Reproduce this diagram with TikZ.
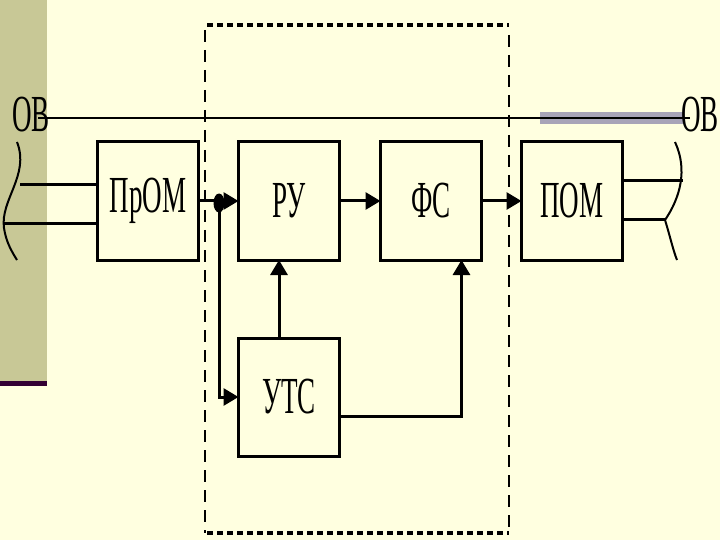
\documentclass[tikz,border=0pt]{standalone}
\usepackage{fontspec}
\newfontfamily\uzkij{Liberation Serif}[FakeStretch=0.52]
\usepackage{xcolor}
\usepackage{tikz}
\usetikzlibrary{arrows.meta,positioning,shapes.geometric}
\definecolor{fon}{HTML}{FFFFE0}
\definecolor{olivka}{HTML}{C8C896}
\definecolor{slivka}{HTML}{330033}
\definecolor{sirenevyj}{HTML}{A8A4B8}

\begin{document}
\begin{tikzpicture}[x=1pt,y=-1pt,
    blok/.style={draw, line width=3pt, minimum width=101pt, minimum height=118pt,
      inner sep=0pt, outer sep=0pt, font=\uzkij\fontsize{52}{52}\selectfont},
    strelka/.style={-{Triangle[length=15pt,width=17pt]}, line width=3pt},
    metka/.style={inner sep=0pt, font=\uzkij\fontsize{52}{52}\selectfont}]
      \useasboundingbox (0,0) rectangle (720,540);
      \fill[fon] (0,0) rectangle (720,540);
      % left strip
      \fill[olivka] (0,0) rectangle (47,381);
      \fill[slivka] (0,381) rectangle (47,386);
      % dashed frame
      \draw[line width=3.5pt, dash pattern=on 6pt off 4pt] (207,25) -- (509,25);
      \draw[line width=3.5pt, dash pattern=on 6pt off 4pt] (207,533) -- (509,533);
      \draw[line width=2pt, dash pattern=on 12pt off 8pt] (205,30) -- (205,533);
      \draw[line width=2pt, dash pattern=on 12pt off 8pt] (509,35) -- (509,533);
      % OB line
      \fill[sirenevyj] (540,112) rectangle (683,124);
      \node[metka] (ovl) at (31,115) {ОВ};
      \node[metka] (ovr) at (700,115) {ОВ};
      \coordinate (ovA) at (38,118);
      \coordinate (ovB) at (690,118);
      \draw[line width=2pt] (ovA) -- (ovB);
      % blocks
      \node[blok] (prom) at (148,201) {ПрОМ};
      \node[blok, right=40pt of prom] (ru) {РУ};
      \node[blok, right=41pt of ru] (fs) {ФС};
      \node[blok, right=40pt of fs] (pom) {ПОМ};
      \node[blok, below=78pt of ru] (uts) {УТС};
      % waves
      \draw[line width=2pt] (17,142) .. controls (30,175) and (0,200) .. (4,228)
        .. controls (6,242) and (12,252) .. (17,260);
      \draw[line width=2pt] (675,142) .. controls (688,170) and (680,198) .. (665,220)
        .. controls (670,236) and (673,250) .. (677,260);
      \coordinate (vl1) at (20,185);
      \coordinate (vl2) at (4,224);
      \coordinate (vr1) at (683,181);
      \coordinate (vr2) at (666,220);
      \draw[line width=3pt] (vl1) -- (vl1 -| prom.west);
      \draw[line width=3pt] (vl2) -- (vl2 -| prom.west);
      \draw[line width=3pt] (vr1 -| pom.east) -- (vr1);
      \draw[line width=3pt] (vr2 -| pom.east) -- (vr2);
      % connectors
      \draw[strelka] (prom.east) -- (ru.west);
      \draw[strelka] (ru.east) -- (fs.west);
      \draw[strelka] (fs.east) -- (pom.west);
      \node[ellipse, fill, inner sep=0pt, minimum width=11pt, minimum height=19pt] (uzel) at (219,203) {};
      \draw[strelka] (uzel.center) |- (uts.west);
      \draw[strelka] ([xshift=-10pt]uts.north) -- ([xshift=-10pt]ru.south);
      \draw[strelka] ([yshift=-19pt]uts.east) -| ([xshift=30.5pt]fs.south);
\end{tikzpicture}
\end{document}
